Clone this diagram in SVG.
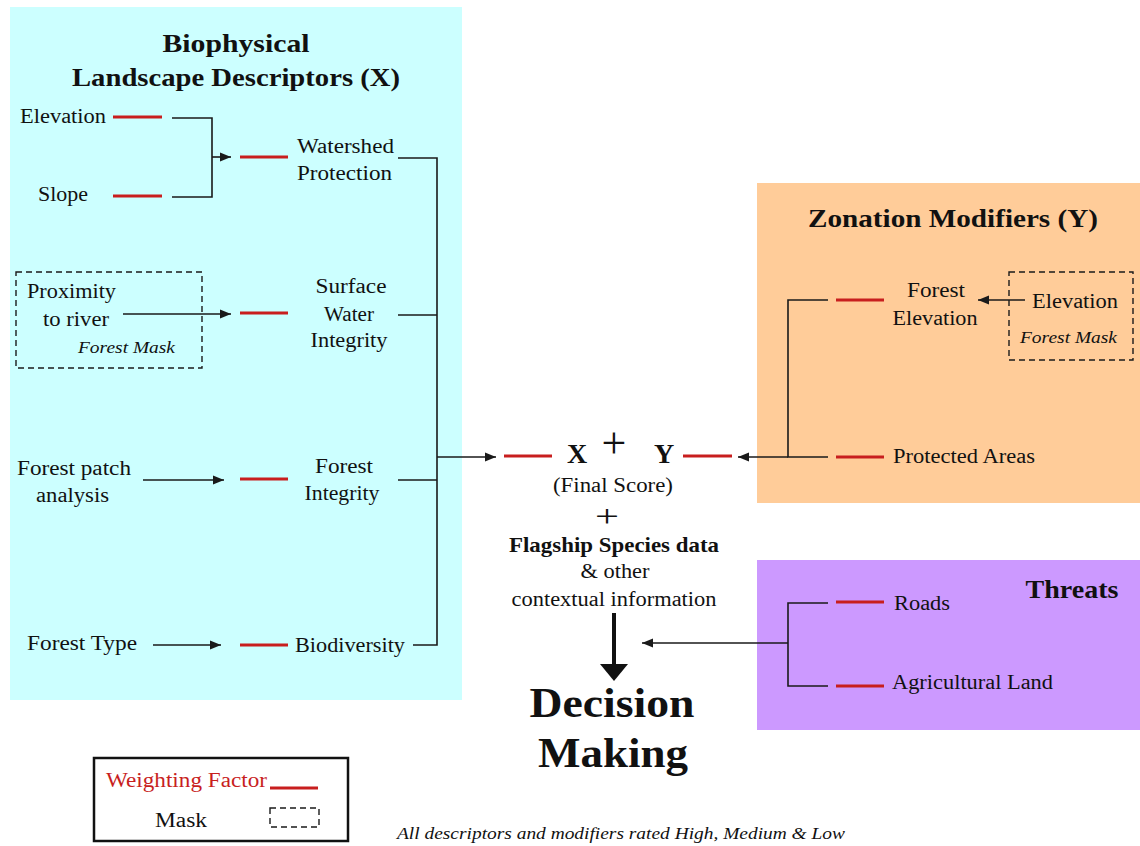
<svg xmlns="http://www.w3.org/2000/svg" width="1140" height="846" viewBox="0 0 1140 846">
<defs>
<style>
text{font-family:"Liberation Serif","Times New Roman",serif;fill:#111;}
.t{font-size:20px;}
.b{font-weight:bold;}
.i{font-style:italic;font-size:17px;}
.h{font-size:26px;font-weight:bold;}
.w{stroke:#c81e1e;stroke-width:3;fill:none;}
.c{stroke:#1a1a1a;stroke-width:1.6;fill:none;}
.m{stroke:#1a1a1a;stroke-width:1.4;fill:none;stroke-dasharray:6 4;}
</style>
<marker id="ah" markerUnits="userSpaceOnUse" markerWidth="12" markerHeight="10" refX="11" refY="5" orient="auto">
<path d="M0,0.5 L11,5 L0,9.5 Z" fill="#1a1a1a"/>
</marker>
</defs>
<rect width="1140" height="846" fill="#ffffff"/>

<g id="panel-biophysical">
<rect x="10" y="7" width="452" height="693" fill="#CCFFFF"/>
<text class="h" x="236" y="52" text-anchor="middle" textLength="147" lengthAdjust="spacingAndGlyphs">Biophysical</text>
<text class="h" x="236" y="86" text-anchor="middle" textLength="328" lengthAdjust="spacingAndGlyphs">Landscape Descriptors (X)</text>
</g>
<g id="panel-zonation">
<rect x="757" y="183" width="383" height="320" fill="#FFCC99"/>
<text class="h" x="953" y="227" text-anchor="middle" textLength="290" lengthAdjust="spacingAndGlyphs">Zonation Modifiers (Y)</text>
</g>
<g id="panel-threats">
<rect x="757" y="560" width="383" height="170" fill="#CC99FF"/>
<text class="h" x="1072" y="598" text-anchor="middle" textLength="93" lengthAdjust="spacingAndGlyphs">Threats</text>
</g>

<g id="connectors">
<path class="c" d="M172,118 H212 V197 H172"/>
<path class="c" d="M212,157 H231" marker-end="url(#ah)"/>
<path class="c" d="M398,158 H437 V645 H413"/>
<path class="c" d="M398,315 H437"/>
<path class="c" d="M398,480 H437"/>
<path class="c" d="M437,457 H496" marker-end="url(#ah)"/>
<path class="c" d="M123,314 H231" marker-end="url(#ah)"/>
<path class="c" d="M143,480 H224" marker-end="url(#ah)"/>
<path class="c" d="M153,645 H221" marker-end="url(#ah)"/>
<path class="c" d="M828,300 H788 V457 H828"/>
<path class="c" d="M788,457 H738" marker-end="url(#ah)"/>
<path class="c" d="M1025,300 H978" marker-end="url(#ah)"/>
<path class="c" d="M828,603 H788 V686 H828"/>
<path class="c" d="M788,643 H642" marker-end="url(#ah)"/>
<line x1="614" y1="613" x2="614" y2="666" stroke="#111" stroke-width="4"/>
<polygon points="600,664 628,664 614,681" fill="#111"/>
</g>

<g id="node-elevation">
<text class="t" x="20" y="123" textLength="86" lengthAdjust="spacingAndGlyphs">Elevation</text>
<line class="w" x1="113" y1="117" x2="162" y2="117"/>
</g>
<g id="node-slope">
<text class="t" x="38" y="201" textLength="50" lengthAdjust="spacingAndGlyphs">Slope</text>
<line class="w" x1="113" y1="196" x2="162" y2="196"/>
</g>
<g id="node-watershed">
<line class="w" x1="240" y1="157" x2="288" y2="157"/>
<text class="t" x="297" y="153" textLength="97" lengthAdjust="spacingAndGlyphs">Watershed</text>
<text class="t" x="297" y="180" textLength="95" lengthAdjust="spacingAndGlyphs">Protection</text>
</g>
<g id="node-proximity">
<rect class="m" x="16" y="272" width="186" height="96"/>
<text class="t" x="27" y="298" textLength="89" lengthAdjust="spacingAndGlyphs">Proximity</text>
<text class="t" x="43" y="326" textLength="66" lengthAdjust="spacingAndGlyphs">to river</text>
<text class="i" x="78" y="353" textLength="97" lengthAdjust="spacingAndGlyphs">Forest Mask</text>
</g>
<g id="node-surface-water">
<line class="w" x1="240" y1="313" x2="288" y2="313"/>
<text class="t" x="351" y="293" text-anchor="middle" textLength="71" lengthAdjust="spacingAndGlyphs">Surface</text>
<text class="t" x="349" y="321" text-anchor="middle" textLength="50" lengthAdjust="spacingAndGlyphs">Water</text>
<text class="t" x="349" y="347" text-anchor="middle" textLength="77" lengthAdjust="spacingAndGlyphs">Integrity</text>
</g>
<g id="node-forest-patch">
<text class="t" x="17" y="475" textLength="114" lengthAdjust="spacingAndGlyphs">Forest patch</text>
<text class="t" x="36" y="502" textLength="73" lengthAdjust="spacingAndGlyphs">analysis</text>
</g>
<g id="node-forest-integrity">
<line class="w" x1="240" y1="479" x2="288" y2="479"/>
<text class="t" x="344" y="473" text-anchor="middle" textLength="58" lengthAdjust="spacingAndGlyphs">Forest</text>
<text class="t" x="342" y="500" text-anchor="middle" textLength="75" lengthAdjust="spacingAndGlyphs">Integrity</text>
</g>
<g id="node-forest-type">
<text class="t" x="27" y="650" textLength="110" lengthAdjust="spacingAndGlyphs">Forest Type</text>
</g>
<g id="node-biodiversity">
<line class="w" x1="240" y1="645" x2="288" y2="645"/>
<text class="t" x="295" y="652" textLength="110" lengthAdjust="spacingAndGlyphs">Biodiversity</text>
</g>

<g id="node-final-score">
<line class="w" x1="504" y1="456" x2="552" y2="456"/>
<text class="b" x="577" y="463" font-size="28" text-anchor="middle">X</text>
<text x="614" y="458" font-size="44" text-anchor="middle">+</text>
<text class="b" x="664" y="463" font-size="28" text-anchor="middle">Y</text>
<line class="w" x1="683" y1="456" x2="732" y2="456"/>
<text class="t" x="613" y="492" text-anchor="middle" textLength="120" lengthAdjust="spacingAndGlyphs">(Final Score)</text>
<text x="607" y="527" font-size="31" text-anchor="middle" textLength="24" lengthAdjust="spacingAndGlyphs">+</text>
<text class="b" x="614" y="552" font-size="21" text-anchor="middle" textLength="210" lengthAdjust="spacingAndGlyphs">Flagship Species data</text>
<text class="t" x="615" y="578" text-anchor="middle" textLength="69" lengthAdjust="spacingAndGlyphs">&amp; other</text>
<text class="t" x="614" y="606" text-anchor="middle" textLength="205" lengthAdjust="spacingAndGlyphs">contextual information</text>
</g>
<g id="node-decision">
<text class="b" x="612" y="717" font-size="42" text-anchor="middle" textLength="165" lengthAdjust="spacingAndGlyphs">Decision</text>
<text class="b" x="613" y="767" font-size="42" text-anchor="middle" textLength="150" lengthAdjust="spacingAndGlyphs">Making</text>
</g>

<g id="node-forest-elevation">
<line class="w" x1="836" y1="300" x2="884" y2="300"/>
<text class="t" x="936" y="297" text-anchor="middle" textLength="58" lengthAdjust="spacingAndGlyphs">Forest</text>
<text class="t" x="935" y="325" text-anchor="middle" textLength="85" lengthAdjust="spacingAndGlyphs">Elevation</text>
</g>
<g id="node-elevation-mask">
<rect class="m" x="1009" y="272" width="124" height="88"/>
<text class="t" x="1032" y="308" textLength="86" lengthAdjust="spacingAndGlyphs">Elevation</text>
<text class="i" x="1020" y="343" textLength="97" lengthAdjust="spacingAndGlyphs">Forest Mask</text>
</g>
<g id="node-protected-areas">
<line class="w" x1="836" y1="457" x2="884" y2="457"/>
<text class="t" x="893" y="463" textLength="142" lengthAdjust="spacingAndGlyphs">Protected Areas</text>
</g>
<g id="node-roads">
<line class="w" x1="836" y1="602" x2="884" y2="602"/>
<text class="t" x="894" y="610" textLength="56" lengthAdjust="spacingAndGlyphs">Roads</text>
</g>
<g id="node-agricultural">
<line class="w" x1="836" y1="686" x2="884" y2="686"/>
<text class="t" x="892" y="689" textLength="161" lengthAdjust="spacingAndGlyphs">Agricultural Land</text>
</g>

<g id="legend">
<rect x="94" y="758" width="254" height="83" fill="#ffffff" stroke="#111" stroke-width="2.5"/>
<text class="t" x="106" y="787" style="fill:#c81e1e" textLength="161" lengthAdjust="spacingAndGlyphs">Weighting Factor</text>
<line class="w" x1="270" y1="788" x2="318" y2="788"/>
<text class="t" x="155" y="827" textLength="52" lengthAdjust="spacingAndGlyphs">Mask</text>
<rect class="m" x="270" y="808" width="49" height="19" stroke-dasharray="5 3"/>
</g>
<g id="footer">
<text x="397" y="839" font-size="16" font-style="italic" textLength="448" lengthAdjust="spacingAndGlyphs">All descriptors and modifiers rated High, Medium &amp; Low</text>
</g>
</svg>
